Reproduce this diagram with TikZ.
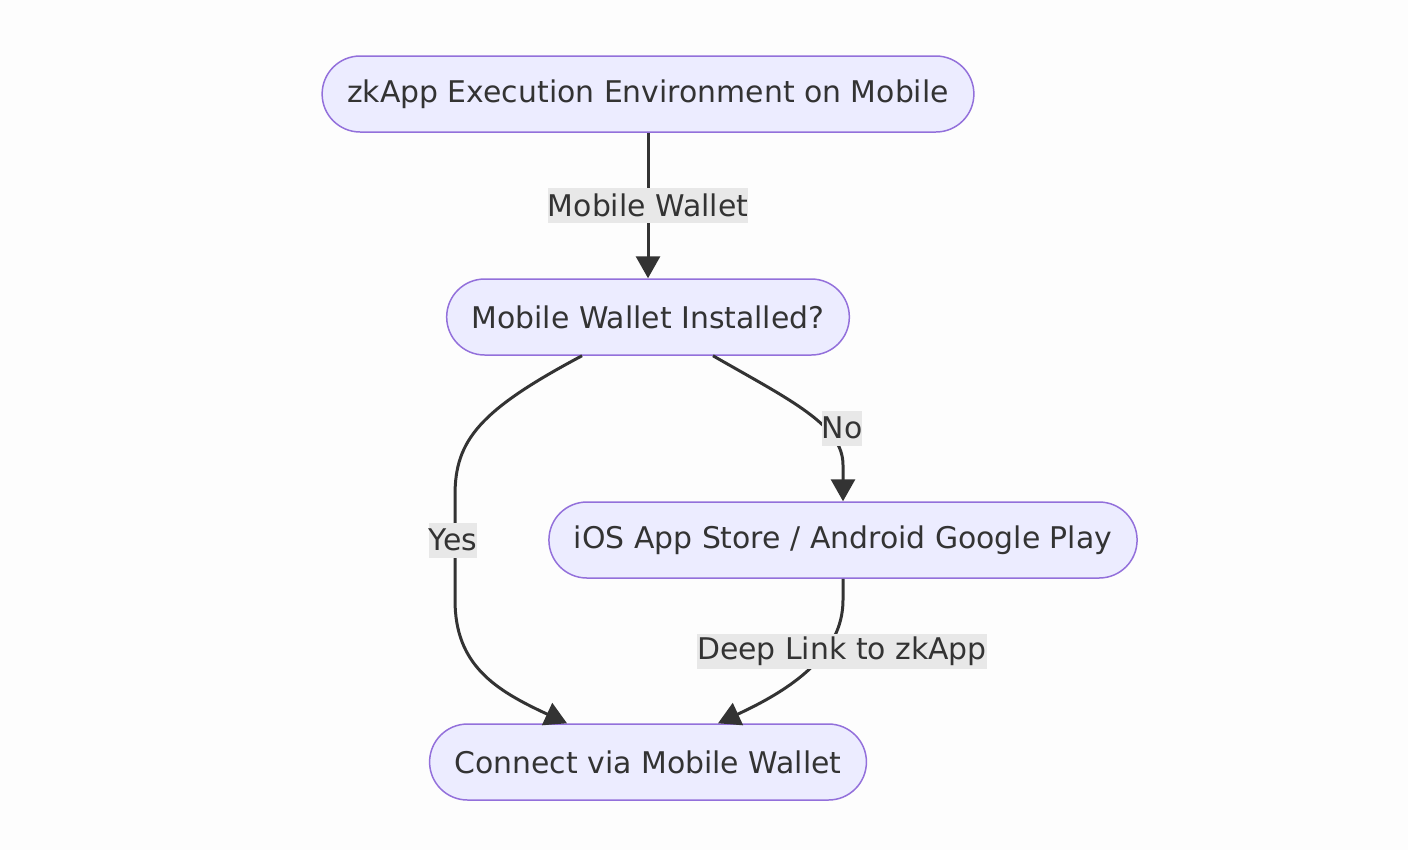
\documentclass[tikz,border=0pt]{standalone}
\usepackage{fontspec}
\setmainfont{DejaVu Sans}
\usetikzlibrary{arrows.meta}
\definecolor{nodefill}{HTML}{ECECFF}
\definecolor{nodeline}{HTML}{9370DB}
\definecolor{edgeline}{HTML}{333333}
\definecolor{lblfill}{HTML}{E8E8E8}
\definecolor{bgcol}{HTML}{FDFDFD}
\begin{document}
\begin{tikzpicture}[x=0.02cm, y=-0.02cm,
    box/.style={draw=nodeline, fill=nodefill, line width=0.85pt, rounded corners=0.76cm,
        minimum height=1.52cm, inner xsep=0.5cm, text=edgeline, font=\fontsize{17}{20}\selectfont},
    lbl/.style={fill=lblfill, inner xsep=0pt, inner ysep=0pt, minimum height=0.7cm,
        text=edgeline, font=\fontsize{17}{20}\selectfont},
    edge/.style={draw=edgeline, line width=1.7pt, -{Triangle[length=0.44cm, width=0.48cm]}}]
    % --- background and page size ---
    \fill[bgcol] (0,0) rectangle (1408,850);

    % --- nodes ---
    \node[box] (env) at (648,94) {zkApp Execution Environment on Mobile};
    \node[box] (installed) at (648,317) {Mobile Wallet Installed?};
    \node[box] (store) at (843,540) {iOS App Store / Android Google Play};
    \node[box] (connect) at (648,762) {Connect via Mobile Wallet};

    % --- edges ---
    \draw[edge] (env) -- (installed);
    \draw[edge] ([xshift=-1.32cm]installed.south) .. controls (480,410) and (455,440) .. (455,495)
        -- (455,600) .. controls (455,665) and (495,690) .. ([xshift=-1.62cm]connect.north);
    \draw[edge] ([xshift=1.3cm]installed.south) .. controls (790,400) and (843,425) .. (843,465)
        -- (store.north);
    \draw[edge] (store.south) -- (843,600) .. controls (843,655) and (790,690) .. ([xshift=1.4cm]connect.north);

    % --- edge labels ---
    \node[lbl] (lwallet) at (648,205) {Mobile Wallet};
    \node[lbl] (lno) at (842,428) {No};
    \node[lbl] (lyes) at (453,540) {Yes};
    \node[lbl] (ldeep) at (842,651) {Deep Link to zkApp};
\end{tikzpicture}
\end{document}
